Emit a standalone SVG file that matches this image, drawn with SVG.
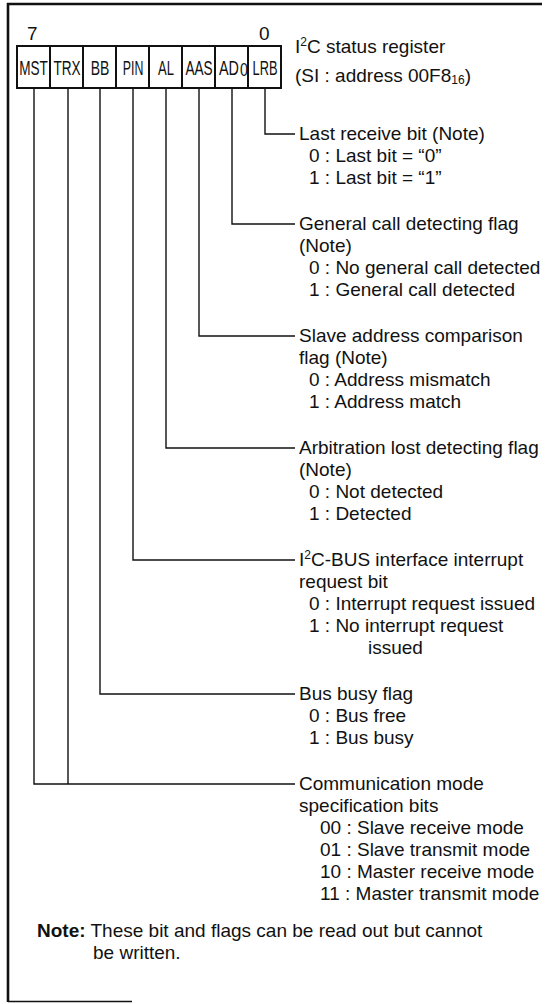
<svg xmlns="http://www.w3.org/2000/svg" width="550" height="1004" viewBox="0 0 550 1004">
<style>
text{font-family:"Liberation Sans",Arial,sans-serif;font-size:19px;fill:#111}
.cell{font-size:20px;text-anchor:middle}
.frame{stroke:#111;fill:none}
.conn{stroke:#111;stroke-width:1.4;fill:none}
.box{stroke:#111;stroke-width:2;fill:#fff}
.sup{font-size:12px}
</style>
<rect width="550" height="1004" fill="#fff"/>
<g id="frame">
<line class="frame" x1="8" y1="3" x2="8" y2="1002" stroke-width="2.6"/>
<line class="frame" x1="7" y1="4" x2="542" y2="4" stroke-width="2.6"/>
<line class="frame" x1="8" y1="1001.5" x2="132" y2="1001.5" stroke-width="1.5" stroke="#666"/>
</g>
<g id="register">
<rect class="box" x="17" y="46" width="264" height="42"/>
<line class="box" x1="50" y1="46" x2="50" y2="88"/>
<line class="box" x1="83" y1="46" x2="83" y2="88"/>
<line class="box" x1="116" y1="46" x2="116" y2="88"/>
<line class="box" x1="149" y1="46" x2="149" y2="88"/>
<line class="box" x1="182" y1="46" x2="182" y2="88"/>
<line class="box" x1="215" y1="46" x2="215" y2="88"/>
<line class="box" x1="248" y1="46" x2="248" y2="88"/>
<text x="27" y="40">7</text>
<text x="259" y="40">0</text>
<text class="cell" transform="translate(33.5,75) scale(0.68,1)">MST</text>
<text class="cell" transform="translate(67,75) scale(0.68,1)">TRX</text>
<text class="cell" transform="translate(100,75) scale(0.7,1)">BB</text>
<text class="cell" transform="translate(133,75) scale(0.62,1)">PIN</text>
<text class="cell" transform="translate(166,75) scale(0.65,1)">AL</text>
<text class="cell" transform="translate(199,75) scale(0.68,1)">AAS</text>
<text class="cell" transform="translate(229,75) scale(0.72,1)">AD</text>
<text transform="translate(240,76) scale(0.75,1)" font-size="14">0</text>
<text class="cell" transform="translate(265,75) scale(0.64,1)">LRB</text>
<text x="295" y="53">I<tspan class="sup" dy="-7">2</tspan><tspan dy="7">C status register</tspan></text>
<text x="295" y="82">(SI : address 00F8<tspan class="sup" dy="2">16</tspan><tspan dy="-2">)</tspan></text>
</g>
<g id="connectors">
<polyline class="conn" points="265,88 265,134 295,134"/>
<polyline class="conn" points="232,88 232,224 295,224"/>
<polyline class="conn" points="199,88 199,336 295,336"/>
<polyline class="conn" points="166,88 166,448 295,448"/>
<polyline class="conn" points="133,88 133,560 295,560"/>
<polyline class="conn" points="100,88 100,694 295,694"/>
<polyline class="conn" points="68,88 68,784"/>
<polyline class="conn" points="34,88 34,784 295,784"/>
</g>
<g id="lrb">
<text x="299" y="140">Last receive bit (Note)</text>
<text x="309" y="162">0 : Last bit = “0”</text>
<text x="309" y="184">1 : Last bit = “1”</text>
</g>
<g id="ad0">
<text x="299" y="230">General call detecting flag</text>
<text x="299" y="252">(Note)</text>
<text x="309" y="274">0 : No general call detected</text>
<text x="309" y="296">1 : General call detected</text>
</g>
<g id="aas">
<text x="299" y="342">Slave address comparison</text>
<text x="299" y="364">flag (Note)</text>
<text x="309" y="386">0 : Address mismatch</text>
<text x="309" y="408">1 : Address match</text>
</g>
<g id="al">
<text x="299" y="454">Arbitration lost detecting flag</text>
<text x="299" y="476">(Note)</text>
<text x="309" y="498">0 : Not detected</text>
<text x="309" y="520">1 : Detected</text>
</g>
<g id="pin">
<text x="299" y="566">I<tspan class="sup" dy="-7">2</tspan><tspan dy="7">C-BUS interface interrupt</tspan></text>
<text x="299" y="588">request bit</text>
<text x="309" y="610">0 : Interrupt request issued</text>
<text x="309" y="632">1 : No interrupt request</text>
<text x="368" y="654">issued</text>
</g>
<g id="bb">
<text x="299" y="700">Bus busy flag</text>
<text x="309" y="722">0 : Bus free</text>
<text x="309" y="744">1 : Bus busy</text>
</g>
<g id="comm">
<text x="299" y="790">Communication mode</text>
<text x="299" y="812">specification bits</text>
<text x="320" y="834">00 : Slave receive mode</text>
<text x="320" y="856">01 : Slave transmit mode</text>
<text x="320" y="878">10 : Master receive mode</text>
<text x="320" y="900">11 : Master transmit mode</text>
</g>
<g id="note">
<text x="37" y="937"><tspan font-weight="bold">Note:</tspan> These bit and flags can be read out but cannot</text>
<text x="93" y="959">be written.</text>
</g>
</svg>
